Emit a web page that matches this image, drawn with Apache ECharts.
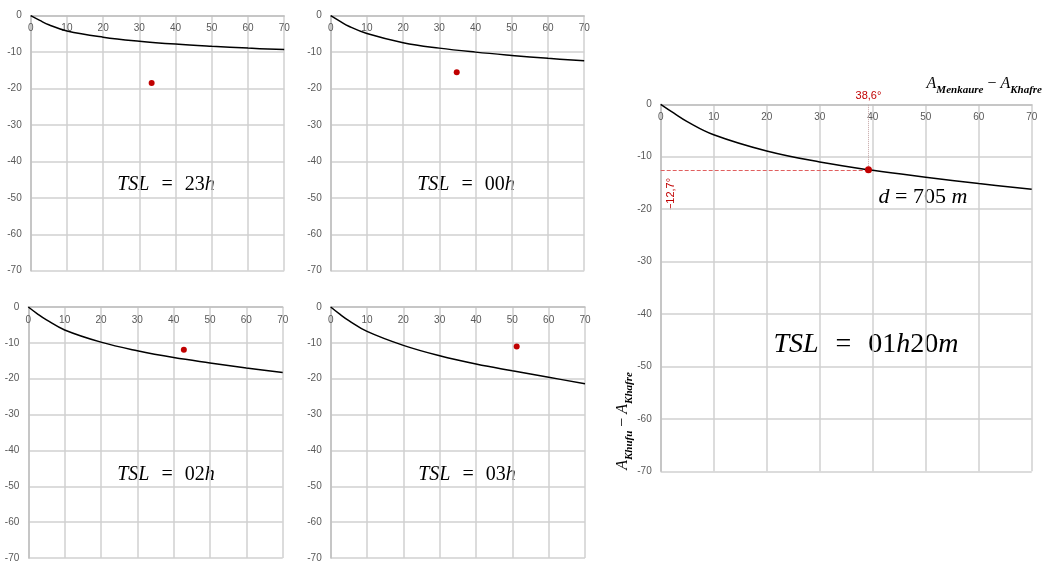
<!DOCTYPE html>
<html>
<head>
<meta charset="utf-8">
<script src="https://cdn.jsdelivr.net/npm/echarts@6/dist/echarts.min.js"></script>
<style>
  html, body { margin: 0; padding: 0; background: #fff; }
  #chart { width: 1046px; height: 563px; }
</style>
</head>
<body>
<div id="chart"></div>
<script>
// azimuth difference sample points (deg), shared by every curve
const xs = [0, 2.5, 5, 10, 20, 30, 40, 50, 60, 70];
// curve values
const curve23h = [0, -1.3, -2.5, -4.2, -5.9, -7.0, -7.8, -8.4, -8.9, -9.3];
const curve00h = [0, -1.5, -2.9, -4.9, -7.4, -8.9, -10.0, -10.9, -11.7, -12.4];
const curve02h = [0, -1.9, -3.6, -6.4, -9.8, -12.2, -14.1, -15.6, -17.0, -18.3];
const curve03h = [0, -2.0, -3.8, -6.8, -10.7, -13.6, -15.9, -17.8, -19.6, -21.4];
const curve0120 = [0, -1.7, -3.3, -5.8, -8.9, -11.0, -12.6, -13.9, -15.1, -16.2];
// observed points (red dots)
const dot23h = [33.4, -18.5];
const dot00h = [34.8, -15.5];
const dot02h = [42.8, -11.9];
const dot03h = [51.2, -11.0];
const dot0120 = [39.2, -12.5];
// TSL labels
const tslHours = ['23', '00', '02', '03'];
// axis ranges
const xRange = [0, 70];
const yRange = [-70, 0];

const curves = [curve23h, curve00h, curve02h, curve03h, curve0120];
const dots = [dot23h, dot00h, dot02h, dot03h, dot0120];

// panel boxes (pixels)
const panels = [
  { left: 30.7, top: 15.7, width: 253.5, height: 255 },
  { left: 330.7, top: 15.7, width: 253.5, height: 255 },
  { left: 28.3, top: 307, width: 254.4, height: 253.7 },
  { left: 330.7, top: 307, width: 254.3, height: 253.7 },
  { left: 660.7, top: 104.3, width: 371, height: 367 }
];

const gridColor = '#d0d0d0';
const labelColor = '#595959';
const sansFont = 'Liberation Sans';
const mathFont = 'Liberation Serif';

const grid = panels.map(p => ({ left: p.left, top: p.top, width: p.width, height: p.height, containLabel: false }));

const xAxis = panels.map((p, i) => ({
  type: 'value', gridIndex: i, position: 'top',
  min: xRange[0], max: xRange[1], interval: 10,
  axisLine: { show: true, onZero: false, lineStyle: { color: '#bfbfbf', width: 1.5 } },
  axisTick: { show: false },
  axisLabel: { inside: true, margin: 8, fontSize: 10, color: labelColor, fontFamily: sansFont, showMinLabel: true, showMaxLabel: true },
  splitLine: { show: true, lineStyle: { color: gridColor, width: 1.5 } }
}));

const yAxis = panels.map((p, i) => ({
  type: 'value', gridIndex: i,
  min: yRange[0], max: yRange[1], interval: 10,
  axisLine: { show: true, onZero: false, lineStyle: { color: '#bfbfbf', width: 1.5 } },
  axisTick: { show: false },
  axisLabel: { margin: 9, fontSize: 10, color: labelColor, fontFamily: sansFont },
  splitLine: { show: true, lineStyle: { color: gridColor, width: 1.5 } }
}));

const series = [];
curves.forEach((c, i) => {
  series.push({
    type: 'line', xAxisIndex: i, yAxisIndex: i,
    data: xs.map((x, k) => [x, c[k]]),
    smooth: 0.4, showSymbol: false, silent: true,
    lineStyle: { color: '#000', width: 1.5 }
  });
});
dots.forEach((d, i) => {
  const s = {
    type: 'scatter', xAxisIndex: i, yAxisIndex: i,
    data: [d], symbolSize: i === 4 ? 7 : 6, z: 5,
    itemStyle: { color: '#c00000', opacity: 1 }
  };
  if (i === 4) {
    s.markLine = {
      symbol: 'none', silent: true, animation: false,
      label: { show: false },
      data: [
        [
          { coord: d, lineStyle: { type: 'dotted', color: '#c4a4a4', width: 1 },
            label: { show: true, position: 'end', distance: 3, formatter: '38,6°', color: '#c00000', fontSize: 11, fontFamily: sansFont } },
          { coord: [d[0], yRange[1]] }
        ],
        [
          { coord: [xRange[0], d[1]], lineStyle: { type: 'dashed', color: '#e06060', width: 1 }, label: { show: false } },
          { coord: d }
        ]
      ]
    };
  }
  series.push(s);
});

// math style rich text
const mathRich = (size) => ({
  i: { fontFamily: mathFont, fontStyle: 'italic', fontSize: size, color: '#000' },
  u: { fontFamily: mathFont, fontSize: size, color: '#000' },
  e: { fontFamily: mathFont, fontSize: size, color: '#000', padding: [0, Math.round(size * 0.6)] }
});

const tslCenters = [[166, 185], [466, 185], [166, 475], [467, 475]];
const graphic = tslHours.map((h, i) => ({
  type: 'text', x: tslCenters[i][0], y: tslCenters[i][1],
  style: {
    text: '{i|TSL}{e|=}{u|' + h + '}{i|h}', align: 'center', verticalAlign: 'middle',
    rich: mathRich(20)
  }
}));

graphic.push(
  {
    type: 'text', x: 866, y: 345,
    style: { text: '{i|TSL}{e|=}{u|01}{i|h}{u|20}{i|m}', align: 'center', verticalAlign: 'middle', rich: mathRich(28) }
  },
  {
    type: 'text', x: 923, y: 197,
    style: { text: '{i|d}{u| = 705 }{i|m}', align: 'center', verticalAlign: 'middle', rich: mathRich(22) }
  },
  {
    type: 'text', x: 671, y: 194, rotation: Math.PI / 2,
    style: { text: '−12,7°', align: 'center', verticalAlign: 'middle', fill: '#c00000', fontSize: 11, fontFamily: sansFont }
  },
  {
    type: 'text', x: 1042, y: 86,
    style: {
      text: '{a|A}{s|Menkaure}{o| − }{a|A}{s|Khafre}', align: 'right', verticalAlign: 'middle',
      rich: {
        a: { fontFamily: mathFont, fontStyle: 'italic', fontSize: 16, color: '#7f7f7f', verticalAlign: 'bottom', padding: [0, 0, 4, 0] },
        s: { fontFamily: mathFont, fontStyle: 'italic', fontWeight: 'bold', fontSize: 11, color: '#7f7f7f', verticalAlign: 'bottom' },
        o: { fontFamily: mathFont, fontSize: 16, color: '#7f7f7f', verticalAlign: 'bottom', padding: [0, 0, 4, 0] }
      }
    }
  },
  {
    type: 'text', x: 625, y: 421, rotation: Math.PI / 2,
    style: {
      text: '{a|A}{s|Khufu}{o| − }{a|A}{s|Khafre}', align: 'center', verticalAlign: 'middle',
      rich: {
        a: { fontFamily: mathFont, fontStyle: 'italic', fontSize: 16, color: '#7f7f7f', verticalAlign: 'bottom', padding: [0, 0, 4, 0] },
        s: { fontFamily: mathFont, fontStyle: 'italic', fontWeight: 'bold', fontSize: 11, color: '#7f7f7f', verticalAlign: 'bottom' },
        o: { fontFamily: mathFont, fontSize: 16, color: '#7f7f7f', verticalAlign: 'bottom', padding: [0, 0, 4, 0] }
      }
    }
  }
);

const chart = echarts.init(document.getElementById('chart'), null, { renderer: 'canvas' });
chart.setOption({
  animation: false,
  backgroundColor: '#fff',
  grid, xAxis, yAxis, series, graphic
});
</script>
</body>
</html>
